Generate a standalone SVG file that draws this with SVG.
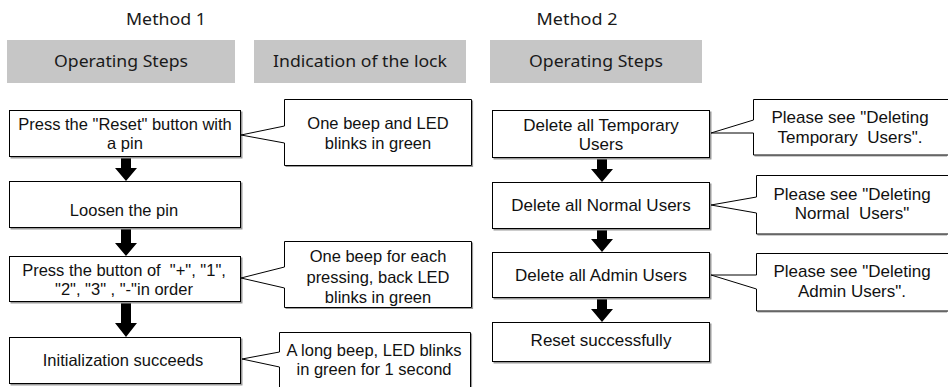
<svg xmlns="http://www.w3.org/2000/svg" width="948" height="387" viewBox="0 0 948 387">
<style>
.bg{fill:#fff}
.hdr{fill:#c6c6c6}
.ht{font-family:"Noto Sans","Open Sans",sans-serif;font-size:16px;fill:#1a1a1a;text-anchor:middle}
.box{fill:#fff;stroke:#000;stroke-width:1}
.sh{fill:#9a9a9a}
.csh{fill:none;stroke:#9a9a9a;stroke-width:1.2}
.tl{font-family:"Liberation Sans",Arial,sans-serif;font-size:16.5px;fill:#111;text-anchor:middle;white-space:pre}
.tr{font-family:"Liberation Sans",Arial,sans-serif;font-size:17px;fill:#111;text-anchor:middle;white-space:pre}
.arr{fill:#000}
</style>
<rect class="bg" x="0" y="0" width="948" height="387"/>

<g id="titles">
<text class="ht" x="166" y="25" textLength="80" lengthAdjust="spacingAndGlyphs">Method 1</text>
<text class="ht" x="577" y="25" textLength="81" lengthAdjust="spacingAndGlyphs">Method 2</text>
</g>

<g id="header-steps-1">
<rect class="hdr" x="7" y="40" width="228" height="43"/>
<text class="ht" x="121" y="67" textLength="134" lengthAdjust="spacingAndGlyphs">Operating Steps</text>
</g>
<g id="header-lock">
<rect class="hdr" x="254" y="40" width="212" height="43"/>
<text class="ht" x="360" y="67" textLength="174" lengthAdjust="spacingAndGlyphs">Indication of the lock</text>
</g>
<g id="header-steps-2">
<rect class="hdr" x="490" y="40" width="212" height="43"/>
<text class="ht" x="596" y="67" textLength="134" lengthAdjust="spacingAndGlyphs">Operating Steps</text>
</g>

<g id="connectors">
<polygon class="arr" points="121,157 131,157 131,168 137,168 126,181 115,168 121,168"/>
<polygon class="arr" points="121,228.5 131,228.5 131,243 137,243 126,256 115,243 121,243"/>
<polygon class="arr" points="121,303 131,303 131,323 137,323 126,337 115,323 121,323"/>
<polygon class="arr" points="597,159 607,159 607,169 613,169 602,182 591,169 597,169"/>
<polygon class="arr" points="597,229.5 607,229.5 607,239 613,239 602,252 591,239 597,239"/>
<polygon class="arr" points="597,298.5 607,298.5 607,309 613,309 602,322 591,309 597,309"/>
</g>

<g id="step1">
<rect class="sh" x="10.5" y="111.5" width="232" height="47"/>
<rect class="box" x="9.5" y="110.5" width="231" height="46"/>
<text class="tl" x="125" y="130">Press the "Reset" button with</text>
<text class="tl" x="125" y="149">a pin</text>
</g>
<g id="step2">
<rect class="sh" x="10.5" y="182.5" width="232" height="47"/>
<rect class="box" x="9.5" y="181.5" width="231" height="46"/>
<text class="tl" x="124" y="216">Loosen the pin</text>
</g>
<g id="step3">
<rect class="sh" x="10.5" y="257.5" width="232" height="46"/>
<rect class="box" x="9.5" y="256.5" width="231" height="45"/>
<text class="tl" x="124" y="276">Press the button of  "+", "1",</text>
<text class="tl" x="124" y="295">"2", "3" , "-"in order</text>
</g>
<g id="step4">
<rect class="sh" x="10.5" y="338.5" width="232" height="47"/>
<rect class="box" x="9.5" y="337.5" width="231" height="46"/>
<text class="tl" x="123" y="366">Initialization succeeds</text>
</g>

<g id="ind1">
<path class="csh" d="M472.5,100.5 V166.5 H285.5"/>
<path class="box" d="M284.5,99.5 H471.5 V165.5 H284.5 V143 L241,135 L284.5,126 Z"/>
<text class="tl" x="378" y="129">One beep and LED</text>
<text class="tl" x="378" y="149">blinks in green</text>
</g>
<g id="ind3">
<path class="csh" d="M472.5,242.5 V308.5 H285.5"/>
<path class="box" d="M284.5,241.5 H471.5 V307.5 H284.5 V288 L241,278 L284.5,267 Z"/>
<text class="tl" x="378" y="262">One beep for each</text>
<text class="tl" x="378" y="283">pressing, back LED</text>
<text class="tl" x="378" y="303">blinks in green</text>
</g>
<g id="ind4">
<path class="csh" d="M471.5,333.5 V392"/>
<path class="box" d="M279.5,332.5 H470.5 V395 H279.5 V367 L242,359 L279.5,352 Z"/>
<text class="tl" x="374" y="356">A long beep, LED blinks</text>
<text class="tl" x="374" y="375">in green for 1 second</text>
</g>

<g id="m2step1">
<rect class="sh" x="493.5" y="111.5" width="218" height="48"/>
<rect class="box" x="492.5" y="110.5" width="217" height="47"/>
<text class="tr" x="601" y="131">Delete all Temporary</text>
<text class="tr" x="601" y="150">Users</text>
</g>
<g id="m2step2">
<rect class="sh" x="493.5" y="183.5" width="218" height="47"/>
<rect class="box" x="492.5" y="182.5" width="217" height="46"/>
<text class="tr" x="601" y="211">Delete all Normal Users</text>
</g>
<g id="m2step3">
<rect class="sh" x="493.5" y="253.5" width="218" height="46"/>
<rect class="box" x="492.5" y="252.5" width="217" height="45"/>
<text class="tr" x="601" y="281">Delete all Admin Users</text>
</g>
<g id="m2step4">
<rect class="sh" x="493.5" y="323.5" width="218" height="40"/>
<rect class="box" x="492.5" y="322.5" width="217" height="39"/>
<text class="tr" x="601" y="346">Reset successfully</text>
</g>

<g id="m2ind1">
<path class="csh" d="M754.5,156 H947"/>
<path class="box" d="M753.5,99.5 H949 V155 H753.5 V133 L711,133 L753.5,120 Z"/>
<text class="tr" x="850" y="123">Please see "Deleting</text>
<text class="tr" x="850" y="143">Temporary  Users".</text>
</g>
<g id="m2ind2">
<path class="csh" d="M757.5,235 H947"/>
<path class="box" d="M756.5,175.5 H949 V234 H756.5 V213 L711,205 L756.5,197 Z"/>
<text class="tr" x="852" y="200">Please see "Deleting</text>
<text class="tr" x="852" y="219">Normal  Users"</text>
</g>
<g id="m2ind3">
<path class="csh" d="M757.5,312 H947"/>
<path class="box" d="M756.5,253.5 H949 V311 H756.5 V289 L711,275 L756.5,275 Z"/>
<text class="tr" x="852" y="277">Please see "Deleting</text>
<text class="tr" x="852" y="297">Admin Users".</text>
</g>
</svg>
